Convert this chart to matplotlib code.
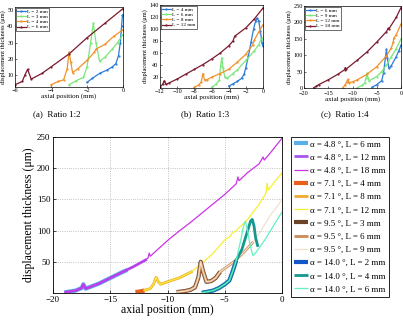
import matplotlib
matplotlib.use("Agg")
import matplotlib.pyplot as plt

plt.rcParams["font.family"] = ["Liberation Serif", "DejaVu Serif"]
plt.rcParams["mathtext.fontset"] = "stix"
plt.rcParams["xtick.direction"] = "in"
plt.rcParams["ytick.direction"] = "in"

# ---- (a) Ratio 1:2 ----
a_L2_x = [-2.0, -1.7, -1.3, -0.9, -0.6, -0.4, -0.25, -0.15, -0.08, -0.03, 0.0]
a_L2_y = [5.5, 8, 11, 13, 15, 17, 22, 30, 40, 47, 47]
a_L3_x = [-3.0, -2.6, -2.2, -2.0, -1.8, -1.65, -1.5, -1.3, -1.0, -0.6, -0.3, 0.0]
a_L3_y = [4, 6.5, 8.5, 15, 30, 42, 30, 18.5, 21, 26, 30, 35]
a_L4_x = [-4.0, -3.6, -3.3, -3.1, -3.0, -2.9, -2.8, -2.5, -2.0, -1.6, -1.5, -1.0, -0.5, 0.0]
a_L4_y = [4, 6, 7, 14, 24, 18, 11.5, 14, 19, 24, 26, 29, 34, 38]
a_L6_x = [-6.0, -5.6, -5.45, -5.3, -5.1, -4.5, -4.0, -3.0, -2.0, -1.0, 0.0]
a_L6_y = [4, 6, 10, 13.5, 7.5, 11, 15, 23, 33, 42, 51]

# ---- (b) Ratio 1:3 ----
b_L4_x = [-4.0, -3.5, -3.0, -2.5, -2.2, -2.0, -1.7, -1.4, -1.1, -0.85, -0.7, -0.5, -0.3, -0.1, 0.0]
b_L4_y = [5, 9, 13, 18, 25, 36, 55, 78, 100, 114, 118, 114, 96, 76, 72]
b_L6_x = [-6.0, -5.5, -5.1, -4.95, -4.8, -4.65, -4.45, -4.2, -3.5, -3.0, -2.0, -1.0, -0.5, -0.2, 0.0]
b_L6_y = [3, 8, 15, 38, 52, 35, 20, 18, 26, 32, 48, 64, 74, 84, 85]
b_L8_x = [-8.0, -7.5, -7.2, -7.0, -6.8, -6.5, -6.0, -5.0, -4.0, -3.0, -2.0, -1.2, -1.0, -0.5, 0.0]
b_L8_y = [3, 7, 12, 26, 15, 16, 20, 26, 33, 45, 58, 74, 82, 95, 107]
b_L12_x = [-12.0, -11.7, -11.5, -11.3, -11.0, -10.0, -9.0, -8.0, -7.0, -6.0, -5.0, -4.0, -3.5, -3.3, -2.0, -1.0, 0.0]
b_L12_y = [4, 8, 14, 8, 10, 17, 25, 33, 41, 50, 60, 72, 80, 88, 102, 117, 135]

# ---- (c) Ratio 1:4 ----
c_L6_x = [-6.0, -5.0, -4.0, -3.6, -3.2, -3.0, -2.8, -2.5, -2.0, -1.0, -0.5, 0.0]
c_L6_y = [2, 10, 22, 45, 95, 118, 90, 60, 68, 95, 112, 130]
c_L9_x = [-9.0, -8.0, -7.5, -7.2, -7.0, -6.8, -6.6, -5.0, -4.0, -3.0, -2.0, -1.0, 0.0]
c_L9_y = [1, 8, 15, 30, 45, 30, 22, 35, 50, 70, 95, 120, 150]
c_L12_x = [-12.0, -11.5, -11.2, -11.0, -10.7, -10.0, -9.0, -7.0, -5.0, -3.0, -2.0, -1.6, -1.5, -1.0, 0.0]
c_L12_y = [1, 10, 18, 26, 16, 19, 25, 42, 65, 98, 122, 140, 152, 162, 195]
c_L18_x = [-18.0, -17.5, -17.0, -15.0, -13.0, -11.6, -11.5, -11.3, -9.0, -7.0, -5.0, -3.0, -2.6, -2.5, -1.0, 0.0]
c_L18_y = [1, 5, 10, 25, 42, 56, 62, 58, 85, 110, 140, 172, 182, 180, 215, 245]

# ---- main plot ----
m48_6_x = [-19.0, -18.0, -17.5, -17.35, -17.15, -16.0, -15.0, -14.0, -13.5]
m48_6_y = [1, 4, 8, 14, 7, 15, 24, 33, 37]
m48_12_x = [-19.0, -18.0, -17.5, -17.35, -17.15, -16.0, -15.0, -14.0, -13.0, -12.0, -11.8]
m48_12_y = [1, 4, 8, 14, 7, 15, 24, 33, 42, 52, 54]
m48_18_x = [-19.0, -18.0, -17.5, -17.35, -17.15, -16.0, -15.0, -14.0, -13.0, -12.0, -11.7, -11.6,
            -11.5, -10.0, -9.0, -8.0, -7.0, -6.0, -5.0, -4.0, -3.85, -3.75, -3.0, -2.0, -1.65,
            -1.55, -1.0, 0.0]
m48_18_y = [1, 4, 8, 14, 7, 15, 24, 33, 42, 52, 56, 64, 59, 84, 99, 113, 128, 143, 158, 175,
            186, 180, 193, 207, 218, 213, 225, 248]

m71_4_x = [-12.8, -12.4, -12.0]
m71_4_y = [1.5, 2.5, 4]
m71_8_x = [-12.1, -11.5, -11.2, -11.0, -10.8, -10.6, -10.0, -9.0, -8.0, -7.8]
m71_8_y = [4, 7, 15, 25, 18, 14, 18, 24, 33, 35]
m71_12_x = [-12.1, -11.5, -11.2, -11.0, -10.8, -10.6, -10.0, -9.0, -8.0, -7.0, -6.0, -5.0,
            -4.5, -4.4, -4.0, -3.0, -2.0, -1.4, -1.3, -1.2, -1.0, 0.0]
m71_12_y = [4, 7, 15, 25, 18, 14, 18, 24, 33, 47, 64, 85, 91, 95, 100, 118, 142, 160, 176,
            165, 170, 193]

m95_3_x = [-9.2, -8.5, -8.0, -7.6, -7.3, -7.1, -6.9, -6.6, -6.2, -5.8, -5.4]
m95_3_y = [1.5, 3, 5, 9, 25, 50, 35, 18, 19, 24, 34]
m95_6_x = [-9.2, -8.5, -8.0, -7.6, -7.3, -7.1, -6.9, -6.6, -6.2, -5.8, -5.4, -4.2, -3.3, -2.5]
m95_6_y = [1.5, 3, 5, 9, 25, 50, 35, 18, 19, 24, 34, 50, 66, 82]
m95_9_x = [-9.2, -8.5, -8.0, -7.6, -7.3, -7.1, -6.9, -6.6, -6.2, -5.8, -5.4, -4.2, -3.3, -2.5,
           -2.0, -1.0, 0.0]
m95_9_y = [1.5, 3, 5, 9, 25, 50, 35, 18, 19, 24, 34, 50, 66, 82, 95, 125, 149]

m140_2_x = [-7.0, -6.5, -6.0, -5.5, -5.0, -4.6, -4.3, -4.0]
m140_2_y = [0.5, 2, 4, 8, 14, 20, 35, 52]
m140_4_x = [-7.0, -6.5, -6.0, -5.5, -5.0, -4.6, -4.3, -4.0, -3.5, -3.0, -2.75, -2.6, -2.45,
            -2.3, -2.1]
m140_4_y = [0.5, 2, 4, 8, 14, 20, 35, 52, 70, 100, 115, 118, 108, 88, 74]
m140_6_x = [-7.0, -6.5, -6.0, -5.5, -5.0, -4.6, -4.3, -4.0, -3.6, -3.35, -3.2, -3.0, -2.8,
            -2.55, -2.4, -1.5, -0.5, 0.0]
m140_6_y = [0.5, 2, 4, 8, 14, 20, 35, 52, 85, 108, 115, 100, 78, 60, 62, 85, 115, 130]

main_labels = [
    "α = 4.8 °, L = 6 mm", "α = 4.8 °, L = 12 mm", "α = 4.8 °, L = 18 mm",
    "α = 7.1 °, L = 4 mm", "α = 7.1 °, L = 8 mm", "α = 7.1 °, L = 12 mm",
    "α = 9.5 °, L = 3 mm", "α = 9.5 °, L = 6 mm", "α = 9.5 °, L = 9 mm",
    "α = 14.0 °, L = 2 mm", "α = 14.0 °, L = 4 mm", "α = 14.0 °, L = 6 mm",
]
main_colors = ["#5aaee6", "#a655f0", "#cc33e6",
               "#e8601c", "#f0aa30", "#f5f032",
               "#6b4326", "#cc8a5c", "#f0e2cc",
               "#1457c8", "#16968f", "#66f0c0"]
main_widths = [3.0, 2.0, 0.9]

sub_colors = ["#2b7bd6", "#7ce67c", "#f0922a", "#7a1a2e"]

W, H = 403, 324
fig = plt.figure(figsize=(W / 100, H / 100), dpi=100)


def box(l, t, r, b):
    return [l / W, 1 - b / H, (r - l) / W, (b - t) / H]


def small(rect, series, labels, xlim, ylim, xticks, yticks, caption, cx):
    ax = fig.add_axes(box(*rect))
    for (x, y), lab, c in zip(series, labels, sub_colors):
        ax.plot(x, y, color=c, lw=0.9, marker=".", ms=1.2, label=lab)
    ax.set_xlim(*xlim)
    ax.set_ylim(*ylim)
    ax.set_xticks(xticks)
    ax.set_yticks(yticks)
    ax.tick_params(labelsize=4.5, length=1.5, width=0.4, pad=1)
    for s in ax.spines.values():
        s.set_linewidth(0.5)
    ax.set_xlabel("axial position (mm)", fontsize=5, labelpad=0)
    ax.set_ylabel("displacement thickness (μm)", fontsize=4.6, labelpad=1)
    leg = ax.legend(loc="upper left", fontsize=3.8, handlelength=1.6, handletextpad=0.3,
                    labelspacing=0.1, borderpad=0.25, borderaxespad=0.15, fancybox=False,
                    framealpha=1)
    leg.get_frame().set_edgecolor("black")
    leg.get_frame().set_linewidth(0.4)
    fig.text(cx / W, 1 - 114 / H, caption, fontsize=6.5, ha="center", va="center")
    return ax


small((15, 7, 123, 87),
      [(a_L2_x, a_L2_y), (a_L3_x, a_L3_y), (a_L4_x, a_L4_y), (a_L6_x, a_L6_y)],
      ["L = 2 mm", "L = 3 mm", "L = 4 mm", "L = 6 mm"],
      (-6, 0), (2.6, 52), [-6, -4, -2, 0], [10, 20, 30, 40, 50], "(a)  Ratio 1:2", 57)
small((160, 5, 263, 88),
      [(b_L4_x, b_L4_y), (b_L6_x, b_L6_y), (b_L8_x, b_L8_y), (b_L12_x, b_L12_y)],
      ["L = 4 mm", "L = 6 mm", "L = 8 mm", "L = 12 mm"],
      (-12, 0), (2, 140), [-12, -10, -8, -6, -4, -2, 0], [20, 40, 60, 80, 100, 120, 140],
      "(b)  Ratio 1:3", 205)
ax_c = small((304, 6, 401, 88),
             [(c_L6_x, c_L6_y), (c_L9_x, c_L9_y), (c_L12_x, c_L12_y), (c_L18_x, c_L18_y)],
             ["L = 6 mm", "L = 9 mm", "L = 12 mm", "L = 18 mm"],
             (-20, 0), (0, 250), [-20, -15, -10, -5, 0], [0, 50, 100, 150, 200, 250],
             "(c)  Ratio 1:4", 345)
ax_c.tick_params(axis="x", pad=2)

ax = fig.add_axes(box(53, 137, 282, 293))
main_series = [(m48_6_x, m48_6_y), (m48_12_x, m48_12_y), (m48_18_x, m48_18_y),
               (m71_4_x, m71_4_y), (m71_8_x, m71_8_y), (m71_12_x, m71_12_y),
               (m95_3_x, m95_3_y), (m95_6_x, m95_6_y), (m95_9_x, m95_9_y),
               (m140_2_x, m140_2_y), (m140_4_x, m140_4_y), (m140_6_x, m140_6_y)]
for i, ((x, y), lab, c) in enumerate(zip(main_series, main_labels, main_colors)):
    ax.plot(x, y, color=c, lw=main_widths[i % 3], label=lab, solid_capstyle="butt")
ax.set_xlim(-20, 0)
ax.set_ylim(0, 250)
ax.set_xticks([-20, -15, -10, -5, 0])
ax.set_yticks([50, 100, 150, 200, 250])
ax.grid(True, linestyle=":", color="#b0b0b0", linewidth=0.6)
ax.tick_params(labelsize=6.5, length=2, width=0.5, pad=2)
for s in ax.spines.values():
    s.set_linewidth(0.6)
ax.set_xlabel("axial position (mm)", fontsize=8.5, labelpad=0)
ax.set_ylabel("displacement thickness (μm)", fontsize=8.5, labelpad=1)
leg = ax.legend(loc="upper left", bbox_to_anchor=(291 / W, 1 - 137 / H),
                bbox_transform=fig.transFigure, fontsize=6.4, handlelength=1.6,
                handletextpad=0.2, labelspacing=0.56, borderpad=0.35, borderaxespad=0,
                fancybox=False, framealpha=1)
leg.get_frame().set_edgecolor("black")
leg.get_frame().set_linewidth(0.6)

fig.savefig("out.png", dpi=100)
